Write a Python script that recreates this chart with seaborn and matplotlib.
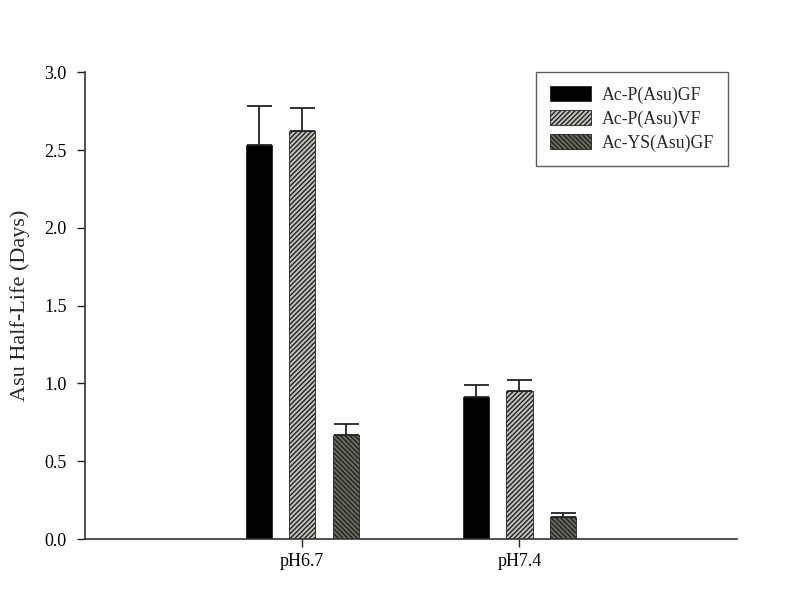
import numpy as np
import pandas as pd
import matplotlib
matplotlib.use('Agg')
import matplotlib.pyplot as plt
import seaborn as sns

# data
conditions = ['pH6.7', 'pH7.4']
peptides = ['Ac-P(Asu)GF', 'Ac-P(Asu)VF', 'Ac-YS(Asu)GF']
half_life = {
    'Ac-P(Asu)GF': [2.53, 0.91],
    'Ac-P(Asu)VF': [2.62, 0.95],
    'Ac-YS(Asu)GF': [0.67, 0.14],
}
half_life_err = {
    'Ac-P(Asu)GF': [0.25, 0.08],
    'Ac-P(Asu)VF': [0.15, 0.07],
    'Ac-YS(Asu)GF': [0.07, 0.03],
}

colors = ['#000000', '#c4c4bc', '#6e6e58']
hatches = ['', '///////', '\\\\\\\\\\\\\\']

rows = []
for pep in peptides:
    for i, cond in enumerate(conditions):
        rows.append({'condition': cond, 'peptide': pep,
                     'days': half_life[pep][i], 'err': half_life_err[pep][i]})
df = pd.DataFrame(rows)

sns.set_style('ticks')
plt.rcParams['font.family'] = ['Liberation Serif', 'DejaVu Serif']
plt.rcParams['hatch.linewidth'] = 1.0
plt.rcParams['hatch.color'] = '#1a1a1a'

fig = plt.figure(figsize=(8, 5.97), dpi=100)
ax = fig.add_axes([0.106, 0.097, 0.815, 0.782])

sns.barplot(data=df, x='condition', y='days', hue='peptide', order=conditions,
            hue_order=peptides, palette=colors, width=0.6, gap=0.4,
            errorbar=None, edgecolor='#222222', linewidth=0.6, ax=ax)

# hatches and error bars (upper only)
for j, (cont, pep) in enumerate(zip(ax.containers, peptides)):
    for k, bar in enumerate(cont):
        bar.set_hatch(hatches[j])
        xc = bar.get_x() + bar.get_width() / 2
        ax.errorbar(xc, half_life[pep][k], yerr=[[0], [half_life_err[pep][k]]],
                    fmt='none', ecolor='#222222', elinewidth=1.3, capsize=9,
                    capthick=1.3, zorder=1)

ax.set_xlim(-1, 2)
ax.set_ylim(0, 3.0)
ax.set_yticks(np.arange(0, 3.01, 0.5))
ax.set_yticklabels([f'{v:.1f}' for v in np.arange(0, 3.01, 0.5)])
ax.set_xlabel('')
ax.set_ylabel('Asu Half-Life (Days)', fontsize=16, labelpad=10)
ax.tick_params(axis='both', labelsize=13, direction='out', length=6,
               width=1, colors='#222222', labelcolor='black')
ax.tick_params(axis='y', pad=7)
ax.tick_params(axis='x', pad=4)
for s in ['left', 'bottom']:
    ax.spines[s].set_color('#333333')
    ax.spines[s].set_linewidth(1.2)
sns.despine(ax=ax)

leg = ax.legend(loc='upper right', bbox_to_anchor=(0.987, 1.0), fontsize=12.8,
                frameon=True, fancybox=False, edgecolor='#333333',
                handlelength=2.3, handleheight=0.9, borderpad=0.8,
                labelspacing=0.35, handletextpad=0.6, borderaxespad=0)
leg.get_frame().set_linewidth(1.0)
for h, hat in zip(leg.legend_handles, hatches):
    h.set_hatch(hat)
    h.set_edgecolor('#222222')
    h.set_linewidth(0.6)

fig.savefig('out.png', dpi=100)
